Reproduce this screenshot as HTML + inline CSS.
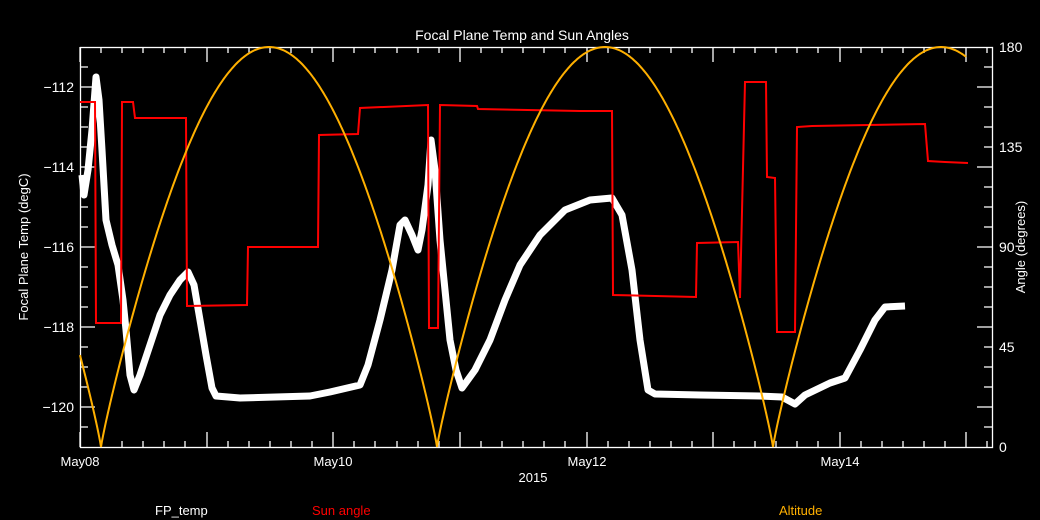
<!DOCTYPE html>
<html><head><meta charset="utf-8"><style>
html,body{margin:0;padding:0;background:#000;}
svg{display:block;font-family:"Liberation Sans",sans-serif;}
</style></head><body>
<svg width="1040" height="520" viewBox="0 0 1040 520" xmlns="http://www.w3.org/2000/svg">
<rect width="1040" height="520" fill="#000"/>
<text x="522" y="40" fill="#fff" font-size="14" text-anchor="middle">Focal Plane Temp and Sun Angles</text>
<g stroke="#fff" stroke-width="1.3" fill="none">
<rect x="80.5" y="47.5" width="912" height="400"/>
<path id="lt" d="M80 67h8M80 87h15M80 107h8M80 127h8M80 147h8M80 167h15M80 187h8M80 207h8M80 227h8M80 247h15M80 267h8M80 287h8M80 307h8M80 327h15M80 347h8M80 367h8M80 387h8M80 407h15M80 427h8"/>
<path d="M992 67h-8M992 87h-15M992 107h-8M992 127h-8M992 147h-8M992 167h-15M992 187h-8M992 207h-8M992 227h-8M992 247h-15M992 267h-8M992 287h-8M992 307h-8M992 327h-15M992 347h-8M992 367h-8M992 387h-8M992 407h-15M992 427h-8"/>
<path id="bt" d="
M80 447v-15M101 447v-6M122 447v-6M143 447v-6M164 447v-6M185 447v-6M207 447v-15M228 447v-6M249 447v-6M270 447v-6M291 447v-6M312 447v-6M333 447v-15M354 447v-6M375 447v-6M397 447v-6M418 447v-6M439 447v-6M460 447v-15M481 447v-6M502 447v-6M523 447v-6M544 447v-6M565 447v-6M587 447v-15M608 447v-6M629 447v-6M650 447v-6M671 447v-6M692 447v-6M713 447v-15M734 447v-6M755 447v-6M776 447v-6M797 447v-6M818 447v-6M840 447v-15M861 447v-6M882 447v-6M903 447v-6M924 447v-6M945 447v-6M966 447v-15M987 447v-6"/>
<path d="
M80 47v15M101 47v6M122 47v6M143 47v6M164 47v6M185 47v6M207 47v15M228 47v6M249 47v6M270 47v6M291 47v6M312 47v6M333 47v15M354 47v6M375 47v6M397 47v6M418 47v6M439 47v6M460 47v15M481 47v6M502 47v6M523 47v6M544 47v6M565 47v6M587 47v15M608 47v6M629 47v6M650 47v6M671 47v6M692 47v6M713 47v15M734 47v6M755 47v6M776 47v6M797 47v6M818 47v6M840 47v15M861 47v6M882 47v6M903 47v6M924 47v6M945 47v6M966 47v15M987 47v6"/>
</g>
<g fill="#fff" font-size="14" text-anchor="end">
<text x="74" y="92">−112</text><text x="74" y="172">−114</text><text x="74" y="252">−116</text><text x="74" y="332">−118</text><text x="74" y="412">−120</text>
</g>
<g fill="#fff" font-size="14" text-anchor="start">
<text x="999" y="452">0</text><text x="999" y="352">45</text><text x="999" y="252">90</text><text x="999" y="152">135</text><text x="999" y="52">180</text>
</g>
<g fill="#fff" font-size="13" text-anchor="middle">
<text x="80" y="466">May08</text><text x="333" y="466">May10</text><text x="587" y="466">May12</text><text x="840" y="466">May14</text>
<text x="533" y="482">2015</text>
</g>
<text transform="translate(28,247) rotate(-90)" fill="#fff" font-size="13" text-anchor="middle">Focal Plane Temp (degC)</text>
<text transform="translate(1025,247) rotate(-90)" fill="#fff" font-size="13" text-anchor="middle">Angle (degrees)</text>
<text x="155" y="515" fill="#fff" font-size="13">FP_temp</text>
<text x="312" y="515" fill="#ff0000" font-size="13">Sun angle</text>
<text x="779" y="515" fill="#ffb000" font-size="13">Altitude</text>
<polyline fill="none" stroke="#fff" stroke-width="7" stroke-linejoin="round" points="82,175 84,195 88,170 92,130 96,77 99,100 102,150 106,220 112,245 118,265 123,300 126,330 130,375 134,390 140,375 150,345 160,315 170,295 180,280 188,272 194,285 200,320 206,355 212,388 216,396 240,398 310,396 330,392 360,385 368,365 380,320 392,270 400,225 405,220 412,235 418,250 422,230 428,185 431,140 435,170 440,240 445,290 450,340 456,370 462,388 475,370 490,340 505,300 520,265 540,235 565,210 590,200 612,198 622,215 632,270 640,340 648,390 655,394 700,395 760,396 782,397 795,404 805,395 830,383 845,378 860,350 875,320 885,307 905,306"/>
<polyline fill="none" stroke="#ff0000" stroke-width="2" points="80,102 95,102 96,323 121,323 122,102 133,102 135,118 186,118 187,306 247,305 248,247 318,247 319,135 358,134 360,108 428,105 429,328 438,328 440,105 477,106 478,109 580,111 612,111 613,295 696,297 697,243 738,242 740,298 745,82 766,82 767,177 775,178 777,332 795,332 797,127 812,126 925,124 928,161 945,162 968,163"/>
<polyline id="alt" fill="none" stroke="#ffb000" stroke-width="2" points=""/>
<script>
var p=[];for(var x=80;x<=966;x+=1){var th=Math.PI*(x-101)/336;var s=Math.abs(Math.sin(th));var a=180*Math.pow(s,0.9);p.push(x+","+(447-a*400/180).toFixed(1));}
document.getElementById("alt").setAttribute("points",p.join(" "));
</script>
</svg>
</body></html>
